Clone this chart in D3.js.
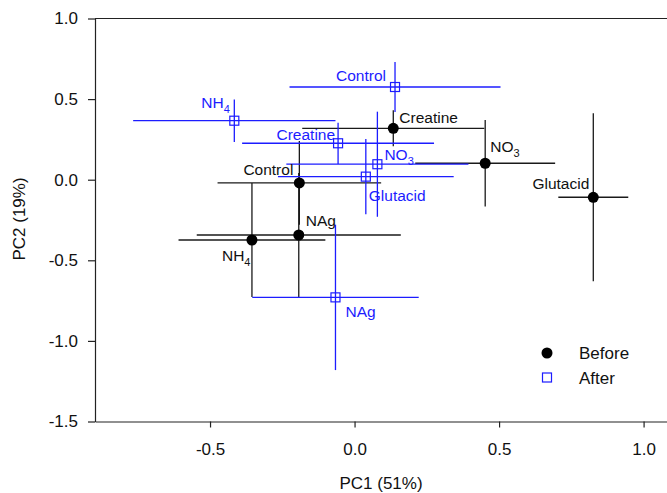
<!DOCTYPE html>
<html>
<head>
<meta charset="utf-8">
<script src="https://cdn.jsdelivr.net/npm/d3@7"></script>
<style>
  body { margin: 0; background: #fff; }
  text { font-family: "Liberation Sans", Arial, sans-serif; }
</style>
</head>
<body>
<div id="chart"></div>
<script>
'use strict';

var width = 667;
var height = 493;

// treatments, label is main text + subscript
var treatments = ['Control', 'NH4', 'NO3', 'NAg', 'Creatine', 'Glutacid'];
var labelMain = ['Control', 'NH', 'NO', 'NAg', 'Creatine', 'Glutacid'];
var labelSub = ['', '4', '3', '', '', ''];

// Before (black circles)
var beforeX = [-0.191, -0.355, 0.452, -0.193, 0.134, 0.826];
var beforeY = [-0.020, -0.374, 0.102, -0.343, 0.319, -0.109];
var beforeXErr = [0.283, 0.254, 0.242, 0.353, 0.315, 0.121];
var beforeYErr = [0.260, 0.354, 0.269, 0.385, 0.112, 0.521];

// After (blue squares)
var afterX = [0.140, -0.416, 0.079, -0.066, -0.057, 0.039];
var afterY = [0.575, 0.366, 0.096, -0.730, 0.226, 0.019];
var afterXErr = [0.365, 0.350, 0.315, 0.288, 0.332, 0.304];
var afterYErr = [0.155, 0.132, 0.326, 0.451, 0.128, 0.233];

var xTicks = [-0.5, 0.0, 0.5, 1.0];
var yTicks = [1.0, 0.5, 0.0, -0.5, -1.0, -1.5];

// label placement (pixels from the marker)
var beforeLabelPos = {
  Control:  {dx: -6, dy: -8, anchor: 'end'},
  NH4:      {dx: -30, dy: 21, anchor: 'start'},
  NO3:      {dx: 5, dy: -11, anchor: 'start'},
  NAg:      {dx: 7, dy: -9, anchor: 'start'},
  Creatine: {dx: 6, dy: -5, anchor: 'start'},
  Glutacid: {dx: -4, dy: -8, anchor: 'end'}
};
var afterLabelPos = {
  Control:  {dx: -9, dy: -6, anchor: 'end'},
  NH4:      {dx: -33, dy: -13, anchor: 'start'},
  NO3:      {dx: 7, dy: -4, anchor: 'start'},
  NAg:      {dx: 10, dy: 20, anchor: 'start'},
  Creatine: {dx: -3, dy: -3, anchor: 'end'},
  Glutacid: {dx: 3, dy: 24, anchor: 'start'}
};

var blue = '#1c1cff';
var dark = '#1a1a1a';

var svg = d3.select('#chart').append('svg')
  .attr('width', width)
  .attr('height', height);

var xScale = d3.scaleLinear().domain([-0.898, 1.081]).range([95, 667]);
var yScale = d3.scaleLinear().domain([-1.5, 1.0]).range([421.5, 18.5]);

function rows(xs, ys, xe, ye) {
  return treatments.map(function(t, i) {
    return {name: t, main: labelMain[i], sub: labelSub[i],
            x: xs[i], y: ys[i], xe: xe[i], ye: ye[i]};
  });
}
var before = rows(beforeX, beforeY, beforeXErr, beforeYErr);
var after = rows(afterX, afterY, afterXErr, afterYErr);

// frame: top line, left axis, bottom axis
svg.append('line')
  .attr('x1', xScale.range()[0]).attr('x2', xScale.range()[1])
  .attr('y1', yScale(1.0)).attr('y2', yScale(1.0))
  .attr('stroke', '#222').attr('stroke-width', 1.2);

var xAxis = svg.append('g')
  .attr('transform', 'translate(0,' + yScale(-1.5) + ')')
  .call(d3.axisBottom(xScale).tickValues(xTicks).tickFormat(d3.format('.1f'))
    .tickSize(6).tickSizeOuter(0).tickPadding(15));
var yAxis = svg.append('g')
  .attr('transform', 'translate(' + xScale.range()[0] + ',0)')
  .call(d3.axisLeft(yScale).tickValues(yTicks).tickFormat(d3.format('.1f'))
    .tickSize(7).tickSizeOuter(0).tickPadding(10));

[xAxis, yAxis].forEach(function(ax) {
  ax.select('.domain').attr('stroke', '#222').attr('stroke-width', 1.2);
  ax.selectAll('.tick line').attr('stroke', '#222').attr('stroke-width', 1.2);
  ax.selectAll('.tick text')
    .attr('fill', '#111')
    .style('font-family', '"Liberation Sans", Arial, sans-serif')
    .style('font-size', '17px');
});
// minus sign as plain hyphen
xAxis.selectAll('.tick text').text(function(d) { return d3.format('.1f')(d).replace('−', '-'); });
yAxis.selectAll('.tick text').text(function(d) { return d3.format('.1f')(d).replace('−', '-'); });

// axis titles
svg.append('text')
  .attr('x', 381).attr('y', 489)
  .attr('text-anchor', 'middle')
  .style('font-size', '17px').attr('fill', '#111')
  .text('PC1 (51%)');
svg.append('text')
  .attr('transform', 'translate(25,219) rotate(-90)')
  .attr('text-anchor', 'middle')
  .style('font-size', '17px').attr('fill', '#111')
  .text('PC2 (19%)');

function drawErrorBars(data, color) {
  var g = svg.append('g').attr('stroke', color).attr('stroke-width', 1.3);
  g.selectAll('line.h').data(data).enter().append('line')
    .attr('class', 'h')
    .attr('x1', function(d) { return xScale(d.x - d.xe); })
    .attr('x2', function(d) { return xScale(d.x + d.xe); })
    .attr('y1', function(d) { return yScale(d.y); })
    .attr('y2', function(d) { return yScale(d.y); });
  g.selectAll('line.v').data(data).enter().append('line')
    .attr('class', 'v')
    .attr('x1', function(d) { return xScale(d.x); })
    .attr('x2', function(d) { return xScale(d.x); })
    .attr('y1', function(d) { return yScale(d.y - d.ye); })
    .attr('y2', function(d) { return yScale(d.y + d.ye); });
}

function drawLabels(data, pos, color) {
  var t = svg.append('g').selectAll('text').data(data).enter().append('text')
    .attr('x', function(d) { return xScale(d.x) + pos[d.name].dx; })
    .attr('y', function(d) { return yScale(d.y) + pos[d.name].dy; })
    .attr('text-anchor', function(d) { return pos[d.name].anchor; })
    .attr('fill', color)
    .style('font-size', '15.5px');
  t.append('tspan').text(function(d) { return d.main; });
  t.filter(function(d) { return d.sub; })
    .append('tspan')
    .attr('dy', 5)
    .style('font-size', '11px')
    .text(function(d) { return d.sub; });
}

drawErrorBars(before, dark);
drawErrorBars(after, blue);

// markers
svg.append('g').selectAll('circle').data(before).enter().append('circle')
  .attr('cx', function(d) { return xScale(d.x); })
  .attr('cy', function(d) { return yScale(d.y); })
  .attr('r', 5.5)
  .attr('fill', '#000');

svg.append('g').selectAll('rect').data(after).enter().append('rect')
  .attr('x', function(d) { return xScale(d.x) - 4.5; })
  .attr('y', function(d) { return yScale(d.y) - 4.5; })
  .attr('width', 9).attr('height', 9)
  .attr('fill', 'none')
  .attr('stroke', blue).attr('stroke-width', 1.2);

drawLabels(before, beforeLabelPos, '#111');
drawLabels(after, afterLabelPos, blue);

// legend
var legend = svg.append('g');
legend.append('circle').attr('cx', 547).attr('cy', 353).attr('r', 5.5).attr('fill', '#000');
legend.append('rect').attr('x', 542.5).attr('y', 373).attr('width', 9).attr('height', 9)
  .attr('fill', 'none').attr('stroke', blue).attr('stroke-width', 1.2);
legend.append('text').attr('x', 579).attr('y', 359).style('font-size', '17px').attr('fill', '#111').text('Before');
legend.append('text').attr('x', 579).attr('y', 383.5).style('font-size', '17px').attr('fill', '#111').text('After');
</script>
</body>
</html>
